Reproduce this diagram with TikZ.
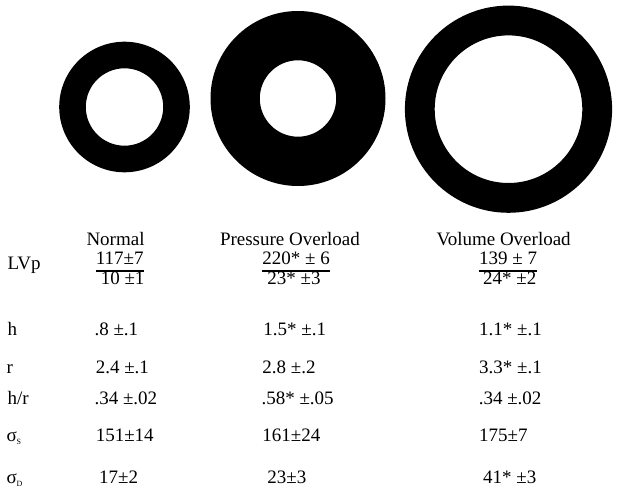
\documentclass[tikz,border=0pt]{standalone}
\usepackage{fontspec}
\setmainfont{Liberation Serif}
\begin{document}
\begin{tikzpicture}[x=1pt,y=-1pt,
  txt/.style={anchor=base west,inner sep=0pt,outer sep=0pt,font=\fontsize{19}{22}\selectfont},
  head/.style={txt,text depth=0pt},
  ring/.style={fill=black,even odd rule},
  uline/.style={line width=1.2pt}]
\useasboundingbox (0,0) rectangle (618,502);
% rings
\coordinate (cN) at (124.5,107);
\coordinate (cP) at (298,98.5);
\coordinate (cV) at (508.5,109.2);
\fill[ring] (cN) circle[radius=65.3pt] (cN) circle[radius=38.7pt];
\fill[ring] (cP) circle[radius=87.5pt] (cP) circle[radius=38.2pt];
\fill[ring] (cV) circle[radius=103.6pt] (cV) circle[radius=73.8pt];
% headers
\node[head] (hN) at (86.5,246) {Normal};
\node[head] (hP) at (220,246) {Pressure Overload};
\node[head] (hV) at (436.5,246) {Volume Overload};
% row labels
\node[txt] (lLVp) at (7.5,270) {LVp};
\node[txt] (lh) at (7.5,335) {h};
\node[txt] (lr) at (6.5,373) {r};
\node[txt] (lhr) at (7.5,404.5) {h/r};
\node[txt] (lsS) at (6.5,441.5) {σ\raisebox{-3pt}{\fontsize{8}{8}\selectfont S}};
\node[txt] (lsD) at (6.5,483.5) {σ\raisebox{-3pt}{\fontsize{8}{8}\selectfont D}};
% Normal column
\node[txt] (n1) at (95.8,264.5) {117±7};
\node[txt] (n2) at (100.8,285) {10 ±1};
\node[txt] (n3) at (94.5,335) {.8 ±.1};
\node[txt] (n4) at (95.8,373) {2.4 ±.1};
\node[txt] (n5) at (94.5,404.5) {.34 ±.02};
\node[txt] (n6) at (95.8,441.5) {151±14};
\node[txt] (n7) at (99.2,483.5) {17±2};
% Pressure column
\node[txt] (p1) at (262.4,264.5) {220* ± 6};
\node[txt] (p2) at (267.4,285) {23* ±3};
\node[txt] (p3) at (263.4,335) {1.5* ±.1};
\node[txt] (p4) at (262.4,373) {2.8 ±.2};
\node[txt] (p5) at (261.5,404.5) {.58* ±.05};
\node[txt] (p6) at (262.4,441.5) {161±24};
\node[txt] (p7) at (267.4,483.5) {23±3};
% Volume column
\node[txt] (v1) at (479.1,264.5) {139 ± 7};
\node[txt] (v2) at (483.1,285) {24* ±2};
\node[txt] (v3) at (479.1,335) {1.1* ±.1};
\node[txt] (v4) at (479.1,373) {3.3* ±.1};
\node[txt] (v5) at (478.8,404.5) {.34 ±.02};
\node[txt] (v6) at (479.1,441.5) {175±7};
\node[txt] (v7) at (483.1,483.5) {41* ±3};
% underlines
\draw[uline] ([yshift=-6.5pt]n1.base west) -- ([yshift=-6.5pt]n1.base east);
\draw[uline] ([yshift=-6.5pt]p1.base west) -- ([yshift=-6.5pt]p1.base east);
\draw[uline] ([yshift=-6.5pt]v1.base west) -- ([yshift=-6.5pt]v1.base east);
\end{tikzpicture}
\end{document}
